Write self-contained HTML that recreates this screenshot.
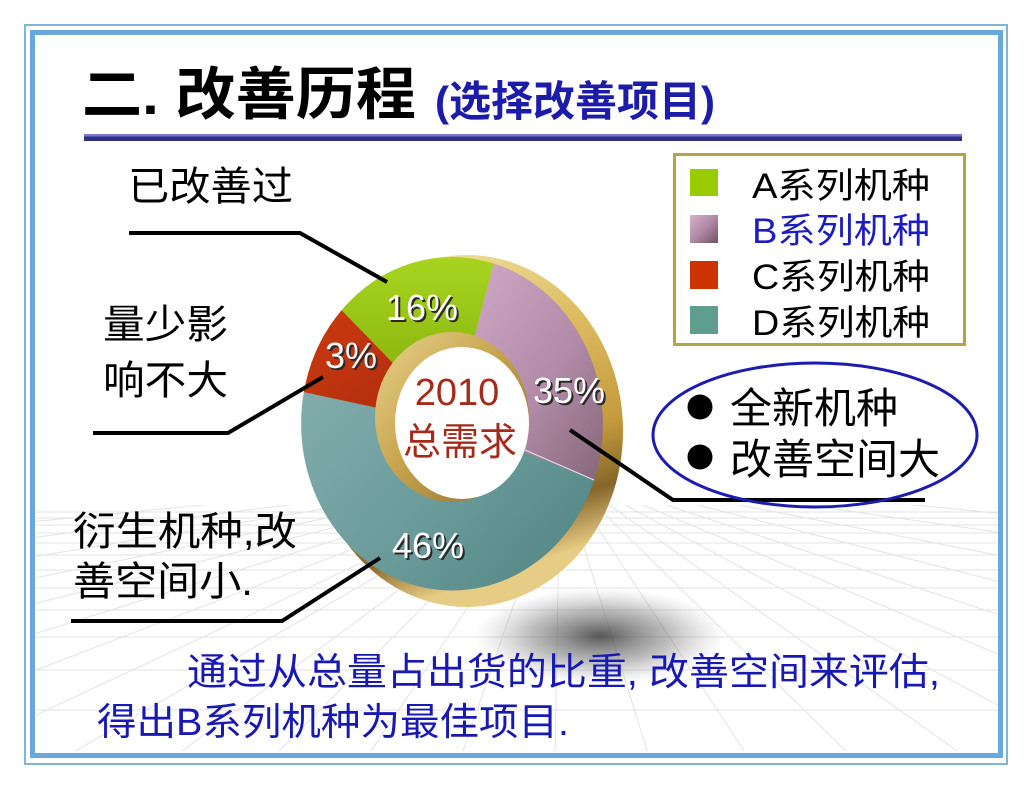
<!DOCTYPE html>
<html><head><meta charset="utf-8"><style>
html,body{margin:0;padding:0;background:#fff;}
svg{display:block;}
text{font-family:"Liberation Sans","Noto Sans CJK SC",sans-serif;}
</style></head><body>
<svg width="1030" height="790" viewBox="0 0 1030 790" xmlns="http://www.w3.org/2000/svg">
<defs>
  <linearGradient id="gA" x1="0" y1="0" x2="0" y2="1"><stop offset="0" stop-color="#a8d420"/><stop offset="1" stop-color="#7eaa08"/></linearGradient>
  <linearGradient id="gB" x1="0" y1="0" x2="1" y2="1"><stop offset="0" stop-color="#d4accc"/><stop offset="0.6" stop-color="#b08aa6"/><stop offset="1" stop-color="#86667a"/></linearGradient>
  <linearGradient id="gC" x1="0" y1="0" x2="1" y2="1"><stop offset="0" stop-color="#cc3a10"/><stop offset="1" stop-color="#a82a0e"/></linearGradient>
  <linearGradient id="gD" x1="0" y1="0" x2="1" y2="0.6"><stop offset="0" stop-color="#82acac"/><stop offset="0.6" stop-color="#6a9a9a"/><stop offset="1" stop-color="#588a8a"/></linearGradient>
  <linearGradient id="gRim" x1="0" y1="0" x2="0.3" y2="1"><stop offset="0" stop-color="#f6e9ac"/><stop offset="0.4" stop-color="#dcbb60"/><stop offset="0.7" stop-color="#c49a3c"/><stop offset="0.86" stop-color="#86662a"/><stop offset="1" stop-color="#e6cc84"/></linearGradient>
  <linearGradient id="gHole" x1="0" y1="0" x2="1" y2="1"><stop offset="0" stop-color="#e8d28c"/><stop offset="0.45" stop-color="#c8a650"/><stop offset="1" stop-color="#8a6c2c"/></linearGradient>
  <linearGradient id="gLegB" x1="0" y1="0" x2="1" y2="1"><stop offset="0" stop-color="#d6b0cc"/><stop offset="0.5" stop-color="#b08aa4"/><stop offset="1" stop-color="#6e5262"/></linearGradient>
  <radialGradient id="gShadow" cx="0.5" cy="0.5" r="0.5"><stop offset="0" stop-color="#3a3a3a" stop-opacity="0.85"/><stop offset="0.55" stop-color="#6a6a6a" stop-opacity="0.45"/><stop offset="1" stop-color="#9a9a9a" stop-opacity="0"/></radialGradient>
  <clipPath id="floor"><rect x="36" y="505" width="962" height="246"/></clipPath>
</defs>

<!-- frame -->
<rect x="25" y="25" width="982" height="739" fill="#fff" stroke="#7eb4d8" stroke-width="2"/>
<rect x="32.5" y="32.5" width="968" height="723" fill="none" stroke="#68a8dc" stroke-width="5"/>

<!-- perspective floor grid -->
<g clip-path="url(#floor)" stroke="#e3e3e3" stroke-width="1" fill="none">
  <line x1="36" y1="512" x2="1000" y2="512"/>
  <line x1="36" y1="518" x2="1000" y2="518"/>
  <line x1="36" y1="525" x2="1000" y2="525"/>
  <line x1="36" y1="533" x2="1000" y2="533"/>
  <line x1="36" y1="543" x2="1000" y2="543"/>
  <line x1="36" y1="555" x2="1000" y2="555"/>
  <line x1="36" y1="570" x2="1000" y2="570"/>
  <line x1="36" y1="588" x2="1000" y2="588"/>
  <line x1="36" y1="610" x2="1000" y2="610"/>
  <line x1="36" y1="637" x2="1000" y2="637"/>
  <line x1="36" y1="670" x2="1000" y2="670"/>
  <line x1="36" y1="710" x2="1000" y2="710"/>
  <line x1="560" y1="470" x2="-2400" y2="760"/>
  <line x1="560" y1="470" x2="-1700" y2="760"/>
  <line x1="560" y1="470" x2="-1200" y2="760"/>
  <line x1="560" y1="470" x2="-850" y2="760"/>
  <line x1="560" y1="470" x2="-580" y2="760"/>
  <line x1="560" y1="470" x2="-370" y2="760"/>
  <line x1="560" y1="470" x2="-200" y2="760"/>
  <line x1="560" y1="470" x2="-60" y2="760"/>
  <line x1="560" y1="470" x2="60" y2="760"/>
  <line x1="560" y1="470" x2="170" y2="760"/>
  <line x1="560" y1="470" x2="270" y2="760"/>
  <line x1="560" y1="470" x2="365" y2="760"/>
  <line x1="560" y1="470" x2="460" y2="760"/>
  <line x1="560" y1="470" x2="555" y2="760"/>
  <line x1="560" y1="470" x2="650" y2="760"/>
  <line x1="560" y1="470" x2="750" y2="760"/>
  <line x1="560" y1="470" x2="855" y2="760"/>
  <line x1="560" y1="470" x2="970" y2="760"/>
  <line x1="560" y1="470" x2="1100" y2="760"/>
  <line x1="560" y1="470" x2="1250" y2="760"/>
  <line x1="560" y1="470" x2="1440" y2="760"/>
  <line x1="560" y1="470" x2="1700" y2="760"/>
  <line x1="560" y1="470" x2="2050" y2="760"/>
  <line x1="560" y1="470" x2="2600" y2="760"/>
  <line x1="560" y1="470" x2="3500" y2="760"/>
</g>

<!-- title -->
<text x="82" y="114" font-size="57" font-weight="bold" fill="#000" textLength="334" lengthAdjust="spacingAndGlyphs">二. 改善历程</text>
<text x="435" y="116" font-size="42" font-weight="bold" fill="#1c1ca8" textLength="280" lengthAdjust="spacingAndGlyphs">(选择改善项目)</text>
<rect x="84" y="134" width="878" height="2.5" fill="#7a7ac4"/>
<rect x="84" y="136.5" width="878" height="4.5" fill="#2e2e8c"/>

<!-- legend -->
<rect x="674.5" y="154.5" width="290" height="190" fill="#fff" stroke="#b4a444" stroke-width="3"/>
<rect x="690" y="169" width="28" height="27" fill="#99cc00"/>
<rect x="690" y="215" width="28" height="28" fill="url(#gLegB)"/>
<rect x="690" y="261" width="28" height="28" fill="#cc3300"/>
<rect x="690" y="306" width="28" height="28" fill="#5f9e8e"/>
<text x="752" y="198" font-size="35" fill="#000" textLength="178" lengthAdjust="spacingAndGlyphs">A系列机种</text>
<text x="752" y="243" font-size="35" fill="#1c1cc0" textLength="178" lengthAdjust="spacingAndGlyphs">B系列机种</text>
<text x="752" y="289" font-size="35" fill="#000" textLength="178" lengthAdjust="spacingAndGlyphs">C系列机种</text>
<text x="752" y="335" font-size="35" fill="#000" textLength="178" lengthAdjust="spacingAndGlyphs">D系列机种</text>

<!-- shadow under donut -->
<ellipse cx="600" cy="636" rx="125" ry="48" fill="url(#gShadow)"/>

<!-- donut rim -->
<ellipse cx="467" cy="431" rx="156" ry="176" fill="url(#gRim)"/>
<!-- donut face -->
<path d="M452,424 L341.6,310.1 A151,167 0 0 1 493.6,263.5 Z" fill="url(#gA)"/>
<path d="M452,424 L493.6,263.5 A151,167 0 0 1 594.3,479.7 Z" fill="url(#gB)"/>
<path d="M452,424 L594.3,479.7 A151,167 0 0 1 303.8,392.1 Z" fill="url(#gD)"/>
<path d="M452,424 L303.8,392.1 A151,167 0 0 1 341.6,310.1 Z" fill="url(#gC)"/>
<line x1="525" y1="450" x2="594" y2="480" stroke="#e8e0e8" stroke-width="1"/>
<!-- hole -->
<ellipse cx="452" cy="417" rx="77" ry="85" fill="url(#gHole)"/>
<ellipse cx="462" cy="423" rx="67" ry="76" fill="#fff"/>

<!-- center text -->
<text x="457" y="405" font-size="38" fill="#a52a1a" text-anchor="middle">2010</text>
<text x="403" y="455" font-size="38" fill="#a52a1a" textLength="114" lengthAdjust="spacingAndGlyphs">总需求</text>

<!-- percent labels -->
<g font-size="36" text-anchor="middle">
  <text x="424" y="322" fill="#2a2a2a">16%</text><text x="422" y="320" fill="#fff">16%</text>
  <text x="353" y="370" fill="#2a2a2a">3%</text><text x="351" y="368" fill="#fff">3%</text>
  <text x="571" y="405" fill="#2a2a2a">35%</text><text x="569" y="403" fill="#fff">35%</text>
  <text x="430" y="560" fill="#2a2a2a">46%</text><text x="428" y="558" fill="#fff">46%</text>
</g>

<!-- leader lines -->
<g fill="none" stroke="#000" stroke-width="4" stroke-linejoin="miter">
  <polyline points="129,233 300,233 387,282"/>
  <polyline points="93,433 228,433 323,377"/>
  <polyline points="71,621 282,621 380,558"/>
  <polyline points="570,430 673,500 925,500"/>
</g>

<!-- left labels -->
<g font-size="40" fill="#000">
  <text x="128" y="200" textLength="165" lengthAdjust="spacingAndGlyphs">已改善过</text>
  <text x="103" y="338" textLength="125" lengthAdjust="spacingAndGlyphs">量少影</text>
  <text x="103" y="394" textLength="125" lengthAdjust="spacingAndGlyphs">响不大</text>
  <text x="73" y="545" textLength="224" lengthAdjust="spacingAndGlyphs">衍生机种,改</text>
  <text x="73" y="595" textLength="180" lengthAdjust="spacingAndGlyphs">善空间小.</text>
</g>

<!-- ellipse callout -->
<ellipse cx="815" cy="435" rx="162" ry="72" fill="none" stroke="#1c1cb0" stroke-width="3"/>
<circle cx="700" cy="407" r="12.5" fill="#000"/>
<circle cx="700" cy="457" r="12.5" fill="#000"/>
<text x="730" y="423" font-size="42" fill="#000" textLength="168" lengthAdjust="spacingAndGlyphs">全新机种</text>
<text x="730" y="474" font-size="42" fill="#000" textLength="210" lengthAdjust="spacingAndGlyphs">改善空间大</text>

<!-- bottom text -->
<text x="187" y="685" font-size="38" fill="#1818b4" textLength="753" lengthAdjust="spacingAndGlyphs">通过从总量占出货的比重, 改善空间来评估,</text>
<text x="97" y="735" font-size="38" fill="#1818b4" textLength="472" lengthAdjust="spacingAndGlyphs">得出B系列机种为最佳项目.</text>
</svg>
</body></html>
